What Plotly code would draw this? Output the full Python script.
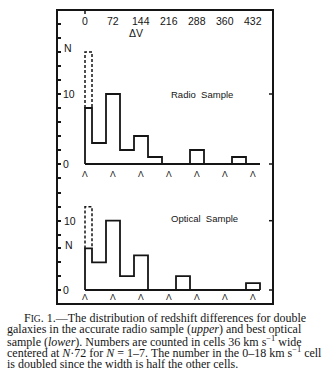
import plotly.graph_objects as go

# ---- data ----
cell_edges = [0, 18, 54, 90, 126, 162, 198, 234, 270, 306, 342, 378, 414, 450]
radio_counts = [8, 3, 10, 2, 4, 1, 0, 0, 2, 0, 0, 1, 0]
optical_counts = [6, 4, 10, 2, 5, 0, 0, 2, 0, 0, 0, 0, 1]
dv_ticks = [0, 72, 144, 216, 288, 360, 432]
dv_labels = ["0", "72", "144", "216", "288", "360", "432"]
caption_lines = [
    "F<span style='font-size:9.5px'>IG</span>. 1.—The distribution of redshift differences for double",
    "galaxies in the accurate radio sample (<i>upper</i>) and best optical",
    "sample (<i>lower</i>). Numbers are counted in cells 36 km s<sup>−1</sup> wide",
    "centered at <i>N</i>·72 for <i>N</i> = 1–7. The number in the 0–18 km s<sup>−1</sup> cell",
    "is doubled since the width is half the other cells.",
]

W, H = 331, 380
def px(x): return x / W
def py(y): return 1 - y / H

INK = "#151515"
SANS = "Liberation Sans, Arial, sans-serif"
SERIF = "Liberation Serif, Times New Roman, serif"

fig = go.Figure()

def add_hist(counts, xa, ya):
    xs = [cell_edges[0]] + cell_edges[:-1] + [cell_edges[-1]]
    ys = [0] + counts + [0]
    fig.add_trace(go.Scatter(x=xs, y=ys, mode="lines", line=dict(color=INK, width=1.8, shape="hv"),
                             xaxis=xa, yaxis=ya, hoverinfo="skip"))
    fig.add_trace(go.Scatter(x=[cell_edges[0], cell_edges[-1]], y=[0, 0], mode="lines",
                             line=dict(color=INK, width=1.8), xaxis=xa, yaxis=ya, hoverinfo="skip"))
    dbl = 2 * counts[0]
    fig.add_trace(go.Scatter(x=[cell_edges[0], cell_edges[0], cell_edges[1], cell_edges[1]],
                             y=[counts[0], dbl, dbl, counts[0]], mode="lines",
                             line=dict(color=INK, width=1.5, dash="3px,2px"),
                             xaxis=xa, yaxis=ya, hoverinfo="skip"))

add_hist(radio_counts, "x", "y")
add_hist(optical_counts, "x2", "y2")

xr = [(57 - 85) / (28 / 72), (273 - 85) / (28 / 72)]
xdom = [px(57), px(273)]
axis_common = dict(showgrid=False, zeroline=False, showline=False)
fig.update_layout(
    width=W, height=H, margin=dict(l=0, r=0, t=0, b=0, pad=0), autosize=False,
    paper_bgcolor="white", plot_bgcolor="white", showlegend=False,
    xaxis=dict(domain=xdom, range=xr, anchor="y", showticklabels=False, ticks="", **axis_common),
    xaxis2=dict(domain=xdom, range=xr, anchor="y2", showticklabels=False, ticks="", **axis_common),
    yaxis=dict(domain=[py(185), py(10)], range=[(164 - 185) / 7, (164 - 10) / 7], anchor="x",
               ticks="inside", ticklen=4, tickwidth=1.5, tickcolor=INK, dtick=2, tick0=0,
               showticklabels=False, **axis_common),
    yaxis2=dict(domain=[py(304), py(185)], range=[(290 - 304) / 6.93, (290 - 185) / 6.93], anchor="x2",
                ticks="inside", ticklen=4, tickwidth=1.5, tickcolor=INK, dtick=2, tick0=0,
                showticklabels=False, **axis_common),
)

shapes = [
    dict(type="rect", xref="paper", yref="paper", x0=px(57), x1=px(273), y0=py(304), y1=py(10),
         line=dict(color=INK, width=2)),
    dict(type="line", xref="x", yref="paper", x0=0, x1=0, y0=py(10), y1=py(14),
         line=dict(color=INK, width=1.5)),
]
for ya in ["y", "y2"]:
    for v in [0, 10]:
        shapes.append(dict(type="line", xref="paper", yref=ya, x0=px(273), x1=px(269), y0=v, y1=v,
                           line=dict(color=INK, width=1.5)))
fig.update_layout(shapes=shapes)

ann = []
for v, lab in zip(dv_ticks, dv_labels):
    ann.append(dict(x=v, xref="x", y=py(21), yref="paper", text=lab, showarrow=False,
                    font=dict(family=SANS, size=10.5, color=INK), xanchor="center", yanchor="middle"))
    ann.append(dict(x=v, xref="x", y=py(174), yref="paper", text="Λ", showarrow=False,
                    font=dict(family=SANS, size=8.5, color=INK), xanchor="center", yanchor="middle"))
    ann.append(dict(x=v, xref="x2", y=py(297), yref="paper", text="Λ", showarrow=False,
                    font=dict(family=SANS, size=8.5, color=INK), xanchor="center", yanchor="middle"))
ann.append(dict(x=130, xref="x", y=py(33), yref="paper", text="ΔV", showarrow=False,
                font=dict(family=SANS, size=10.5, color=INK), xanchor="center", yanchor="middle"))

def lab(text, x, y, yref="paper"):
    ann.append(dict(x=px(x), xref="paper", y=y, yref=yref, text=text, showarrow=False,
                    font=dict(family=SANS, size=10.5, color=INK), xanchor="center", yanchor="middle"))

lab("N", 67.5, py(48))
lab("10", 69, 10, "y")
lab("0", 65.5, 0, "y")
lab("10", 70, 10, "y2")
lab("N", 68.5, py(245))
lab("0", 65.5, 0, "y2")

ann.append(dict(x=px(202), xref="paper", y=py(94), yref="paper", text="Radio  Sample", showarrow=False,
                font=dict(family=SANS, size=9.5, color=INK), xanchor="center", yanchor="middle"))
ann.append(dict(x=px(204), xref="paper", y=py(218), yref="paper", text="Optical  Sample", showarrow=False,
                font=dict(family=SANS, size=9.5, color=INK), xanchor="center", yanchor="middle"))

baselines = [321.7, 333.3, 345.0, 356.7, 368.3]
starts = [22, 5, 5, 5, 5]
for t, b, s in zip(caption_lines, baselines, starts):
    ann.append(dict(x=px(s), xref="paper", y=py(b - 4), yref="paper", text=t, showarrow=False,
                    font=dict(family=SERIF, size=12, color=INK), xanchor="left", yanchor="middle"))

fig.update_layout(annotations=ann)
fig.write_html("out.html", config={"displayModeBar": False})
